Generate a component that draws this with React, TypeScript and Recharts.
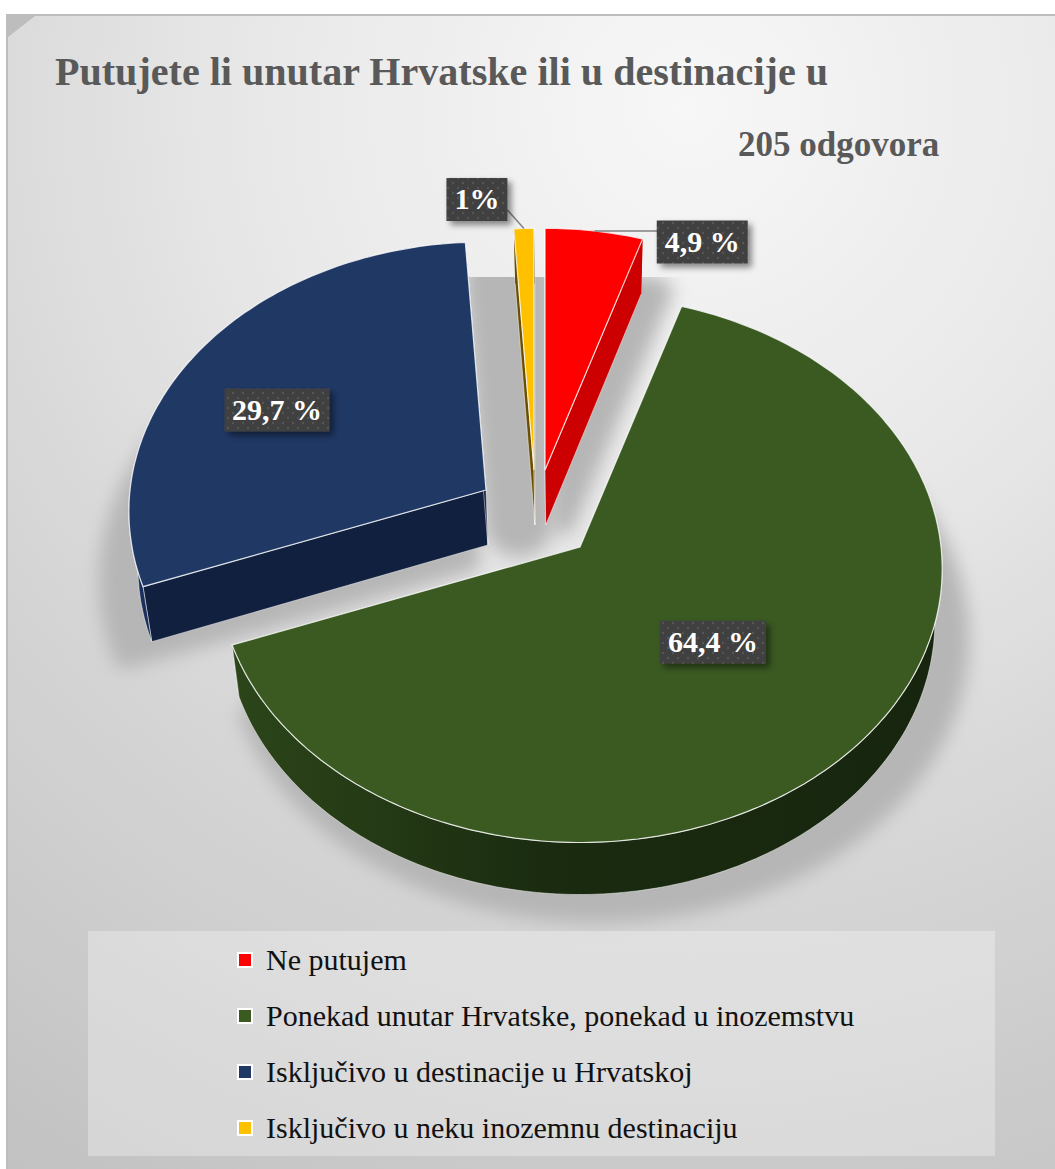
import { Legend, Pie, PieChart } from "recharts";

const CATEGORIES = [
  "Ne putujem",
  "Ponekad unutar Hrvatske, ponekad u inozemstvu",
  "Isključivo u destinacije u Hrvatskoj",
  "Isključivo u neku inozemnu destinaciju",
];
const SHARES = [4.9, 64.4, 29.7, 1];
const LABELS = ["4,9 %", "64,4 %", "29,7 %", "1%"];
const TOP_COLORS = ["#ff0000", "#3a5a22", "#203864", "#ffc000"];
const WALL_COLORS = ["#cc0000", "url(#greenWall)", "#12203f", "#6b4e00"];
const RIM_COLORS = ["#cc0000", "url(#greenWall)", "#1a2f5c", "#6b4e00"];

const rows = CATEGORIES.map((name, i) => ({
  name,
  value: SHARES[i],
  label: LABELS[i],
  fill: TOP_COLORS[i],
}));

// how each slice is pulled out of the pie and how its shadow falls
const SLICE_VIEW = [
  { dx: -35, dy: -77, scale: 0.96, depth: 55, rimEdge: false, shDx: 18, shDy: 52, shSpread: 24 },
  { dx: 0, dy: 0, scale: 1, depth: 52, rimEdge: true, shDx: 17, shDy: 70, shSpread: 20 },
  { dx: -94, dy: -57, scale: 0.986, depth: 55, rimEdge: true, shDx: -18, shDy: 70, shSpread: 24 },
  { dx: -46, dy: -77, scale: 0.96, depth: 55, rimEdge: false, shDx: -15, shDy: 52, shSpread: 70 },
];

// label box placement, relative to the slice's mid point on the pie
const LABEL_VIEW = [
  { f: 1, dx: 108, dy: 11, w: 91, leader: [63, 0] },
  { f: 0.48, dx: 0, dy: 0, w: 106, leader: null },
  { f: 0.73, dx: 0, dy: 22, w: 105, leader: null },
  { f: 1, dx: -47, dy: -29, w: 61, leader: [-17, -19] },
];

const TILT = 0.753;
const PERSPECTIVE = 0.08;
const VANISH_X = 580;
const CONVERGE = 0.02;

function project(p: any, view: any, deg: number, f = 1) {
  const a = (deg * Math.PI) / 180;
  const u = Math.sin(a);
  const v = -Math.cos(a);
  const s = 1 / (1 - PERSPECTIVE * v);
  const r = p.outerRadius * view.scale * f;
  return [p.cx + view.dx + r * u * s, p.cy + view.dy + r * TILT * v * s];
}

function arcPoints(p: any, view: any) {
  const from = 90 - p.startAngle;
  const to = 90 - p.endAngle;
  const n = Math.max(2, Math.ceil(Math.abs(to - from)));
  const pts = [];
  for (let i = 0; i <= n; i++) pts.push(project(p, view, from + ((to - from) * i) / n));
  return pts;
}

const toPath = (pts: number[][]) =>
  "M" + pts.map((q) => `${q[0].toFixed(1)},${q[1].toFixed(1)}`).join("L") + "Z";
const sink = (pts: number[][], d: number) =>
  pts.map((q) => [q[0] + (VANISH_X - q[0]) * CONVERGE, q[1] + d]);

function SliceShape(p: any) {
  const i = CATEGORIES.indexOf(p.name);
  const view = SLICE_VIEW[i];
  const arc = arcPoints(p, view);
  const apex = [p.cx + view.dx, p.cy + view.dy];
  const first = arc[0];
  const last = arc[arc.length - 1];
  const d = view.depth;
  const rim = [...arc, ...sink(arc, d).reverse()];
  const edge = { stroke: "#ffffff", strokeOpacity: 0.6, strokeWidth: 0.8 };
  return (
    <g>
      <path d={toPath([apex, first, ...sink([first, apex], d)])} fill={WALL_COLORS[i]} {...edge} />
      <path d={toPath([apex, last, ...sink([last, apex], d)])} fill={WALL_COLORS[i]} {...edge} />
      <path d={toPath(rim)} fill={RIM_COLORS[i]} {...(view.rimEdge ? edge : {})} />
      <path d={toPath([apex, ...arc])} fill={TOP_COLORS[i]} stroke="#ffffff" strokeOpacity={0.8} strokeWidth={1.2} />
    </g>
  );
}

function ShadowShape(p: any) {
  const i = CATEGORIES.indexOf(p.name);
  const view = SLICE_VIEW[i];
  const arc = arcPoints(p, view);
  const apex = [p.cx + view.dx, p.cy + view.dy];
  const pts = [apex, ...arc].map((q) => [q[0] + view.shDx, q[1] + view.shDy]);
  return (
    <g clipPath="url(#shadowClip)">
      <path
        d={toPath(pts)}
        fill="#b6b6b6"
        stroke="#b6b6b6"
        strokeWidth={view.shSpread}
        strokeLinejoin="round"
        filter="url(#softShadow)"
      />
    </g>
  );
}

function SliceLabel(p: any) {
  const i = p.index;
  const view = SLICE_VIEW[i];
  const lv = LABEL_VIEW[i];
  const mid = 90 - (p.startAngle + p.endAngle) / 2;
  const anchor = project(p, view, mid, lv.f);
  const x = anchor[0] + lv.dx;
  const y = anchor[1] + lv.dy;
  return (
    <g>
      {lv.leader && (
        <line
          x1={anchor[0]}
          y1={anchor[1]}
          x2={anchor[0] + lv.leader[0]}
          y2={anchor[1] + lv.leader[1]}
          stroke="#808080"
          strokeWidth={1.5}
        />
      )}
      <rect
        x={x - lv.w / 2}
        y={y - 21.5}
        width={lv.w}
        height={43}
        fill="url(#dotFill)"
        filter="url(#boxShadow)"
      />
      <text
        x={x}
        y={y + 10}
        textAnchor="middle"
        fill="#ffffff"
        fontFamily="'Liberation Serif', serif"
        fontWeight="bold"
        fontSize={30}
      >
        {LABELS[i]}
      </text>
    </g>
  );
}

function LegendBox({ payload }: any) {
  // both pies report to the legend, so keep one entry per category
  const items = CATEGORIES.map((name) => (payload || []).find((e: any) => e.value === name)).filter(Boolean);
  return (
    <div style={{ width: 907, height: 225, background: "rgba(255,255,255,0.3)", position: "relative" }}>
      {items.map((item: any, i: number) => (
        <div
          key={item.value}
          style={{
            position: "absolute",
            left: 149,
            top: 1 + i * 56,
            height: 56,
            display: "flex",
            alignItems: "center",
            fontFamily: "'Liberation Serif', serif",
            fontSize: 30,
            color: "#111111",
            whiteSpace: "nowrap",
          }}
        >
          <span
            style={{
              width: 12,
              height: 12,
              border: "2px solid #ffffff",
              background: item.color,
              marginRight: 13,
              display: "inline-block",
            }}
          />
          {item.value}
        </div>
      ))}
    </div>
  );
}

export default function App() {
  return (
    <div style={{ position: "absolute", left: 0, top: 0, width: 1055, height: 1169, background: "#ffffff", overflow: "hidden" }}>
      <div
        style={{
          position: "absolute",
          left: 6,
          top: 14,
          width: 1049,
          height: 1155,
          boxSizing: "border-box",
          borderTop: "2px solid #bdbdbd",
          borderLeft: "2px solid #bdbdbd",
          background:
            "radial-gradient(circle 1250px at 680px 90px, #f7f7f7 0%, #e8e8e8 35%, #d6d6d6 62%, #c2c2c2 100%)",
        }}
      />
      <div
        style={{
          position: "absolute",
          left: 8,
          top: 16,
          width: 27,
          height: 21,
          background: "#bdbdbd",
          clipPath: "polygon(0 0, 100% 0, 0 100%)",
        }}
      />
      <div
        style={{
          position: "absolute",
          left: 55,
          top: 48,
          fontFamily: "'Liberation Serif', serif",
          fontWeight: "bold",
          fontSize: 40.1,
          color: "#595959",
          whiteSpace: "nowrap",
        }}
      >
        Putujete li unutar Hrvatske ili u destinacije u
      </div>
      <div
        style={{
          position: "absolute",
          left: 738,
          top: 125,
          fontFamily: "'Liberation Serif', serif",
          fontWeight: "bold",
          fontSize: 35,
          color: "#595959",
          whiteSpace: "nowrap",
        }}
      >
        205 odgovora
      </div>
      <div style={{ position: "absolute", left: 0, top: 0 }}>
        <PieChart width={1055} height={1169} margin={{ top: 0, right: 0, bottom: 0, left: 0 }}>
          <defs>
            <clipPath id="shadowClip">
              <rect x={0} y={277} width={1055} height={892} />
            </clipPath>
            <filter id="softShadow" filterUnits="userSpaceOnUse" x={0} y={0} width={1055} height={1169}>
              <feGaussianBlur stdDeviation={9} />
            </filter>
            <filter id="boxShadow" x="-20%" y="-30%" width="150%" height="170%">
              <feDropShadow dx={4} dy={4} stdDeviation={3} floodColor="#000000" floodOpacity={0.45} />
            </filter>
            <pattern id="dotFill" width={10} height={10} patternUnits="userSpaceOnUse">
              <rect width={10} height={10} fill="#404040" />
              <circle cx={3} cy={3} r={1.2} fill="#555555" />
              <circle cx={8} cy={8} r={1.2} fill="#555555" />
            </pattern>
            <linearGradient id="greenWall" x1="0" y1="0" x2="1" y2="0">
              <stop offset="0" stopColor="#2c4519" />
              <stop offset="0.45" stopColor="#1a2b10" />
              <stop offset="1" stopColor="#17250e" />
            </linearGradient>
          </defs>
          <Pie
            data={rows}
            dataKey="value"
            nameKey="name"
            cx={580}
            cy={547}
            outerRadius={361}
            startAngle={90}
            endAngle={-270}
            legendType="none"
            shape={ShadowShape}
            label={false}
            labelLine={false}
            isAnimationActive={false}
          />
          <Pie
            data={rows}
            dataKey="value"
            nameKey="name"
            cx={580}
            cy={547}
            outerRadius={361}
            startAngle={90}
            endAngle={-270}
            shape={SliceShape}
            label={SliceLabel}
            labelLine={false}
            isAnimationActive={false}
          />
          <Legend
            content={LegendBox}
            wrapperStyle={{ position: "absolute", left: 88, top: 931, width: 907, height: 225 }}
          />
        </PieChart>
      </div>
    </div>
  );
}
